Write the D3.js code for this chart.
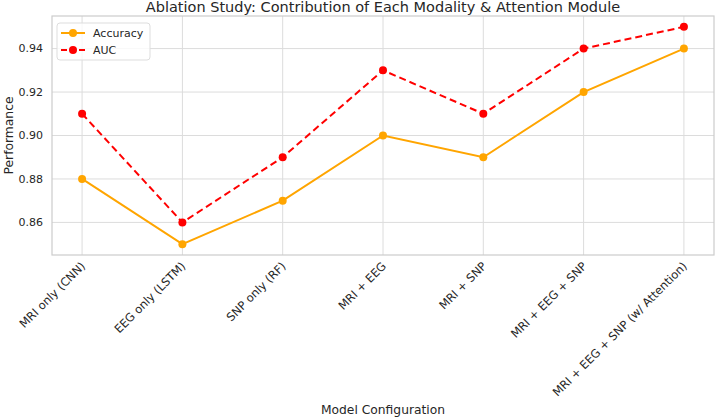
<!DOCTYPE html>
<html>
<head>
<meta charset="utf-8">
<script src="https://cdn.jsdelivr.net/npm/d3@7"></script>
<style>
  html, body { margin: 0; padding: 0; background: #fff; }
  svg text { font-family: "DejaVu Sans", sans-serif; fill: #262626; }
</style>
</head>
<body>
<div id="chart"></div>
<script>
// Data
const configs = [
  'MRI only (CNN)',
  'EEG only (LSTM)',
  'SNP only (RF)',
  'MRI + EEG',
  'MRI + SNP',
  'MRI + EEG + SNP',
  'MRI + EEG + SNP (w/ Attention)'
];
const accuracy = [0.88, 0.85, 0.87, 0.90, 0.89, 0.92, 0.94];
const auc = [0.91, 0.86, 0.89, 0.93, 0.91, 0.94, 0.95];
const yTicks = [0.86, 0.88, 0.90, 0.92, 0.94];

const width = 716, height = 419;
const margin = { top: 16, right: 2, bottom: 164, left: 52 };
const plotW = width - margin.left - margin.right;
const plotH = height - margin.top - margin.bottom;

const svg = d3.select('#chart').append('svg')
  .attr('width', width)
  .attr('height', height);

const g = svg.append('g')
  .attr('transform', `translate(${margin.left},${margin.top})`);

const x = d3.scaleLinear().domain([-0.3, configs.length - 1 + 0.3]).range([0, plotW]);
const allVals = accuracy.concat(auc);
const yMin = d3.min(allVals), yMax = d3.max(allVals);
const pad = (yMax - yMin) * 0.05;
const y = d3.scaleLinear().domain([yMin - pad, yMax + pad]).range([plotH, 0]);

// grid
g.append('g').selectAll('line')
  .data(configs.map((d, i) => i))
  .join('line')
  .attr('x1', d => x(d)).attr('x2', d => x(d))
  .attr('y1', 0).attr('y2', plotH)
  .attr('stroke', '#dcdcdc').attr('stroke-width', 1);

g.append('g').selectAll('line')
  .data(yTicks)
  .join('line')
  .attr('x1', 0).attr('x2', plotW)
  .attr('y1', d => y(d)).attr('y2', d => y(d))
  .attr('stroke', '#dcdcdc').attr('stroke-width', 1);

// frame
g.append('rect')
  .attr('width', plotW).attr('height', plotH)
  .attr('fill', 'none')
  .attr('stroke', '#cccccc').attr('stroke-width', 1.2);

// y tick labels
g.append('g').selectAll('text')
  .data(yTicks)
  .join('text')
  .attr('x', -9)
  .attr('y', d => y(d))
  .attr('dy', '0.35em')
  .attr('text-anchor', 'end')
  .style('font-size', '11px')
  .text(d => d.toFixed(2));

// x tick labels, rotated 45
g.append('g').selectAll('text')
  .data(configs)
  .join('text')
  .attr('text-anchor', 'end')
  .attr('transform', (d, i) => `translate(${x(i) + 1},${plotH + 9}) rotate(-45)`)
  .attr('dy', '0.35em')
  .style('font-size', '11.5px')
  .text(d => d);

// axis titles
svg.append('text')
  .attr('x', margin.left + plotW / 2)
  .attr('y', 414)
  .attr('text-anchor', 'middle')
  .style('font-size', '12.3px')
  .text('Model Configuration');

svg.append('text')
  .attr('transform', `translate(13,${margin.top + plotH / 2}) rotate(-90)`)
  .attr('text-anchor', 'middle')
  .style('font-size', '12.3px')
  .text('Performance');

svg.append('text')
  .attr('x', margin.left + plotW / 2)
  .attr('y', 12)
  .attr('text-anchor', 'middle')
  .style('font-size', '14.5px')
  .text('Ablation Study: Contribution of Each Modality & Attention Module');

// series
const series = [
  { name: 'Accuracy', values: accuracy, color: '#FFA500', dash: null },
  { name: 'AUC', values: auc, color: '#FF0000', dash: '7,4' }
];

const line = d3.line()
  .x((d, i) => x(i))
  .y(d => y(d));

series.forEach(s => {
  g.append('path')
    .datum(s.values)
    .attr('fill', 'none')
    .attr('stroke', s.color)
    .attr('stroke-width', 2)
    .attr('stroke-dasharray', s.dash)
    .attr('d', line);

  g.append('g').selectAll('circle')
    .data(s.values)
    .join('circle')
    .attr('cx', (d, i) => x(i))
    .attr('cy', d => y(d))
    .attr('r', 4)
    .attr('fill', s.color);
});

// legend
const legend = g.append('g').attr('transform', 'translate(5,7)');
legend.append('rect')
  .attr('width', 93).attr('height', 37)
  .attr('rx', 3)
  .attr('fill', '#fff').attr('fill-opacity', 0.8)
  .attr('stroke', '#dddddd');

series.forEach((s, i) => {
  const row = legend.append('g').attr('transform', `translate(4,${10 + i * 17})`);
  row.append('line')
    .attr('x1', 0).attr('x2', 24)
    .attr('stroke', s.color).attr('stroke-width', 2)
    .attr('stroke-dasharray', s.dash ? '6,3' : null);
  row.append('circle').attr('cx', 12).attr('r', 4).attr('fill', s.color);
  row.append('text')
    .attr('x', 32).attr('dy', '0.35em')
    .style('font-size', '11px')
    .text(s.name);
});
</script>
</body>
</html>
